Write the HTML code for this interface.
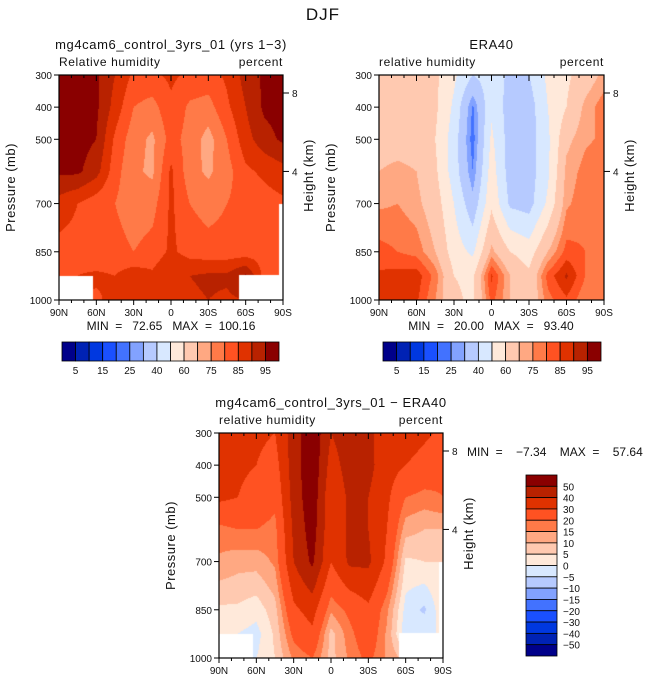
<!DOCTYPE html>
<html><head><meta charset="utf-8">
<style>
body{margin:0;background:#fff;}
#wrap{position:relative;width:647px;height:682px;overflow:hidden;font-family:"Liberation Sans",sans-serif;}
canvas{position:absolute;left:0;top:0;}
svg{position:absolute;left:0;top:0;}
text{font-family:"Liberation Sans",sans-serif;fill:#111;white-space:pre;}
</style></head>
<body>
<div id="wrap">
<canvas id="cv" width="647" height="682"></canvas>
<svg id="sv" width="647" height="682"></svg>
</div>
<script>
// ---- data ----
const lats = [90,75,60,45,30,15,0,-15,-30,-45,-60,-75,-90];
const pressures = [300,400,500,600,700,850,925,1000];
const latTickLabels = ["90N","60N","30N","0","30S","60S","90S"];
const latTickValues = [90,60,30,0,-30,-60,-90];
const pTickValues = [300,400,500,700,850,1000];
const heightTickValues = [8,4];
const heightTickPressure = [356,600];
const absLevels = [5,10,15,20,25,30,40,50,60,70,75,80,85,90,95];
const absLabels = ["5","15","25","40","60","75","85","95"];
const diffLevels = [-50,-40,-30,-20,-15,-10,-5,0,5,10,15,20,30,40,50];
const diffLabels = ["50","40","30","20","15","10","5","0","\u22125","\u221210","\u221215","\u221220","\u221230","\u221240","\u221250"];
const modelRH = [
[97,97,96,90,84,84,86,84,83,86,92,96,97],
[97,97,96,88,80,78,84,79,78,84,90,96,97],
[97,97,95,84,77,74,82,78,73,80,88,93,96],
[96,96,92,82,76,74,86,77,74,78,84,86,88],
[88,85,82,80,77,78,86,80,78,80,82,83,84],
[83,83,81,82,80,82,86,83,82,82,82,83,83],
[84,85,86,85,88,86,90,90,91,91,96,83,83],
[84,86,84,87,86,88,89,89,90,89,90,86,86]];
const eraRH = [
[65,65,65,62,52,40,45,38,40,52,58,65,72],
[65,65,65,62,48,24,48,35,35,50,60,72,78],
[66,66,66,60,45,22,52,35,35,48,68,74,76],
[70,72,70,62,45,25,55,35,35,48,72,77,80],
[74,75,72,65,50,33,58,38,36,52,74,78,80],
[82,80,78,70,55,48,72,60,55,70,82,80,78],
[86,87,88,78,60,58,86,70,62,82,91,80,78],
[87,88,86,75,62,58,82,70,62,78,84,76,80]];
const diffRH = [
[32,32,32,30,45,58,40,45,44,30,36,32,28],
[32,32,30,26,45,58,36,44,43,34,30,26,22],
[32,30,26,22,44,57,32,42,40,32,20,18,20],
[18,20,20,18,42,55,32,42,40,30,12,10,10],
[14,12,12,16,40,52,30,42,42,28,4,5,5],
[4,4,2,8,28,34,16,22,28,16,-2,-6,4],
[0,0,-2,6,22,28,8,18,26,14,-4,0,0],
[0,0,0,5,16,20,8,16,22,14,8,8,8]];
const modelMask = [[90,63,925],[-55,-90,922],[-87,-90,700]];
const diffMask = [[90,63,925],[-55,-90,922],[-87,-90,700]];
const palette = ["#00008a","#0022b4","#0038e0","#1a50ff","#4272ff","#82a2ff","#b6caff","#d8e8ff","#ffe9da","#ffc9b0","#ffa882","#ff7a48","#ff5222","#e03200","#b82200","#8a0000"];

const NS="http://www.w3.org/2000/svg";
const sv=document.getElementById('sv');
const ctx=document.getElementById('cv').getContext('2d');
function el(tag,attrs,parent){const e=document.createElementNS(NS,tag);for(const k in attrs)e.setAttribute(k,attrs[k]);(parent||sv).appendChild(e);return e;}
function txt(x,y,s,size,anchor,name,extra){const t=el('text',Object.assign({x:x,y:y,'font-size':size,'text-anchor':anchor||'start'},extra||{}));t.textContent=s;


return t;}

function interp(grid,lat,p){
  let ci=(90-lat)/15; let c0=Math.min(11,Math.floor(ci)); let fc=ci-c0;
  let r0=0; while(r0<pressures.length-2 && p>pressures[r0+1]) r0++;
  let fr=(p-pressures[r0])/(pressures[r0+1]-pressures[r0]);
  const a=grid[r0][c0],b=grid[r0][c0+1],c=grid[r0+1][c0],d=grid[r0+1][c0+1];
  return (a*(1-fc)+b*fc)*(1-fr)+(c*(1-fc)+d*fc)*fr;
}
function idx(v,levels){let i=0;while(i<levels.length&&v>=levels[i])i++;return i;}

function panel(o){
  const {x0,y0,W,H,grid,levels,mask,name}=o;
  const X=lat=>x0+(90-lat)/180*W, Y=p=>y0+(p-300)/700*H;
  for(let py=0;py<H;py++){for(let px=0;px<W;px++){
    const lat=90-(px+0.5)/W*180, p=300+(py+0.5)/H*700;
    let masked=false; if(mask)for(const m of mask){if(lat<=m[0]&&lat>=m[1]&&p>=m[2])masked=true;}
    if(masked)continue;
    ctx.fillStyle=palette[idx(interp(grid,lat,p),levels)];
    ctx.fillRect(x0+px,y0+py,1,1);
  }}
  const g=el('g',{});
  
  
  const fr=el('rect',{x:x0,y:y0,width:W,height:H,fill:'none',stroke:'#000','stroke-width':1.2},g);
  
  
  for(let lat=90;lat>=-90;lat-=10){
    const major=lat%30===0;
    const t=el('line',{x1:X(lat),x2:X(lat),y1:y0,y2:y0+(major?6:3),stroke:'#000'},g);
    
    
    const b=el('line',{x1:X(lat),x2:X(lat),y1:y0+H,y2:y0+H+(major?5:3),stroke:'#000'},g);
    
    
  }
  latTickValues.forEach((v,i)=>txt(X(v),y0+H+16,latTickLabels[i],10,'middle','x-tick-label'));
  pTickValues.forEach(v=>{
    const t=el('line',{x1:x0-5,x2:x0,y1:Y(v),y2:Y(v),stroke:'#000'},g);
    
    
    txt(x0-7,Y(v)+4,String(v),10,'end','y-tick-label');
  });
  heightTickValues.forEach((h,i)=>{
    const y=Y(heightTickPressure[i]);
    const t=el('line',{x1:x0+W,x2:x0+W+6,y1:y,y2:y,stroke:'#000'},g);
    
    
    txt(x0+W+9,y+4,String(h),10,'start','height-tick-label');
  });
  txt(x0-44,y0+H/2,'Pressure (mb)',13,'middle','y-axis-title',{transform:`rotate(-90 ${x0-44} ${y0+H/2})`,'letter-spacing':'0.5'});
  txt(x0+W+30,y0+H/2-12,'Height (km)',13,'middle','height-axis-title',{transform:`rotate(-90 ${x0+W+30} ${y0+H/2-12})`,'letter-spacing':'0.5'});
  txt(x0,y0-9,o.left,12,'start','variable-label',{'letter-spacing':'0.6'});
  txt(x0+W,y0-9,'percent',12,'end','units-label',{'letter-spacing':'0.6'});
  txt(x0+W/2,y0-26,o.title,13,'middle','panel-title',{'letter-spacing':'0.6'});
}

function hbar(x0,y0,W,H){
  const w=W/16;
  palette.forEach((c,i)=>{
    const r=el('rect',{x:x0+i*w,y:y0,width:w,height:H,fill:c,stroke:'#000','stroke-width':0.8});
    
    
  });
  absLabels.forEach((s,i)=>txt(x0+(2*i+1)*w,y0+H+13,s,10,'middle','colorbar-label'));
}

txt(323,20,'DJF',17,'middle','figure-title',{fill:'#444','letter-spacing':'1'});
panel({x0:59,y0:75,W:224,H:225,grid:modelRH,levels:absLevels,mask:modelMask,name:'model-panel',title:'mg4cam6_control_3yrs_01 (yrs 1\u22123)',left:'Relative humidity'});
panel({x0:379,y0:75,W:225,H:225,grid:eraRH,levels:absLevels,mask:null,name:'era40-panel',title:'ERA40',left:'relative humidity'});
panel({x0:219,y0:433,W:224,H:225,grid:diffRH,levels:diffLevels,mask:diffMask,name:'diff-panel',title:'mg4cam6_control_3yrs_01 \u2212 ERA40',left:'relative humidity'});

txt(171,330,'MIN  =   72.65   MAX  =  100.16',12,'middle','model-min-max');
txt(491,330,'MIN  =   20.00   MAX  =   93.40',12,'middle','era-min-max');
txt(467,456,'MIN  =    \u22127.34    MAX  =    57.64',12,'start','diff-min-max');

hbar(62,342,217,19);
hbar(383,342,218,19);
(function(){
  const x0=526,y0=475,W=31,H=181,h=H/16;
  for(let i=0;i<16;i++){
    const r=el('rect',{x:x0,y:y0+i*h,width:W,height:h,fill:palette[15-i],stroke:'#000','stroke-width':0.8});
    
    
  }
  diffLabels.forEach((s,i)=>txt(x0+W+6,y0+(i+1)*h+4,s,10,'start','diff-colorbar-label'));
})();
</script>
</body></html>
